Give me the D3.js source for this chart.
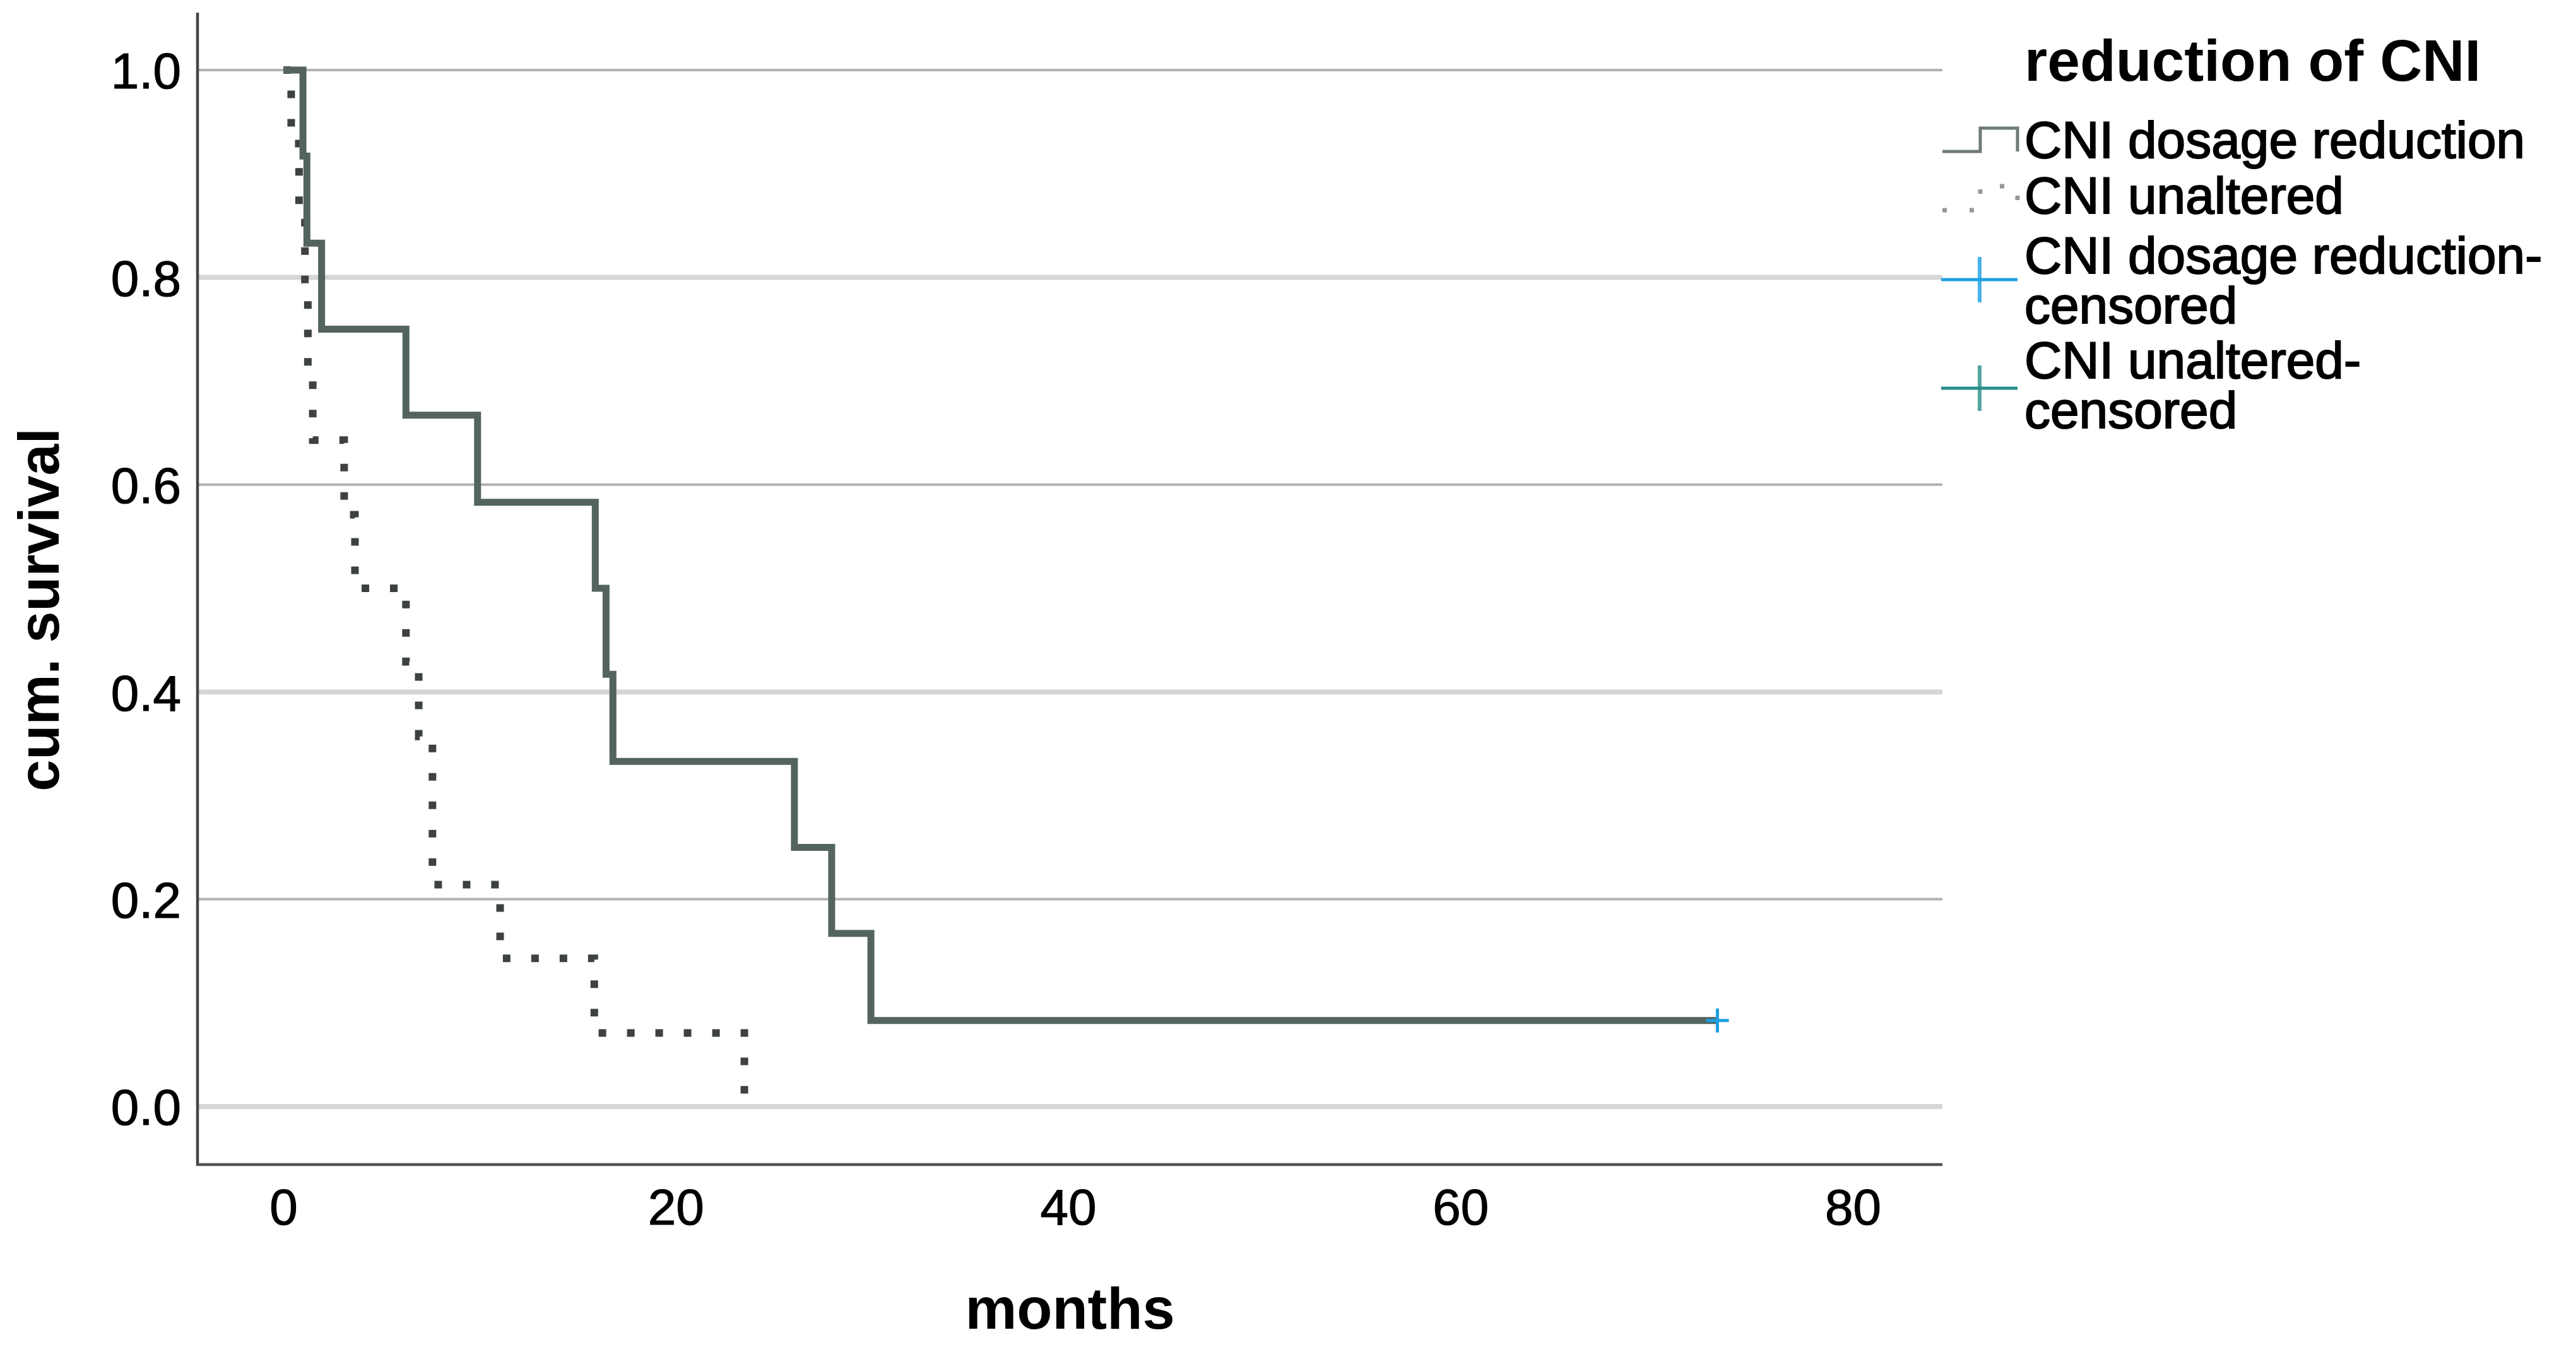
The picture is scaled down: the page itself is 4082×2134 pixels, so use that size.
<!DOCTYPE html>
<html>
<head>
<meta charset="utf-8">
<title>reduction of CNI - survival</title>
<script src="https://cdn.jsdelivr.net/npm/d3@7"></script>
<style>
  body { margin: 0; background: #ffffff; }
  text { font-family: "Liberation Sans", Arial, sans-serif; fill: #000; }
</style>
</head>
<body>
<div id="chartArea"></div>
<script>
// data (months, cum. survival)
var reducedTimes = [0, 1.0, 1.2, 1.95, 6.25, 9.9, 15.9, 16.45, 16.8, 26.05, 27.95, 29.95, 73.1];
var reducedSurv  = [1, 0.917, 0.833, 0.75, 0.667, 0.583, 0.5, 0.417, 0.333, 0.25, 0.167, 0.083, 0.083];

var unalteredTimes = [0, 0.4, 0.8, 1.1, 1.25, 1.5, 3.1, 3.65, 6.25, 6.9, 7.6, 11.05, 15.85, 23.5];
var unalteredSurv  = [1, 0.929, 0.857, 0.786, 0.714, 0.643, 0.571, 0.5, 0.429, 0.357, 0.214, 0.143, 0.071, 0];

var censorTimes = [73.1];
var censorSurv  = [0.083];

var xTicks = [0, 20, 40, 60, 80];
var yTicks = [0, 0.2, 0.4, 0.6, 0.8, 1.0];

var legendTitle = "reduction of CNI";
var legendLabels = [
  ["CNI dosage reduction"],
  ["CNI unaltered"],
  ["CNI dosage reduction-", "censored"],
  ["CNI unaltered-", "censored"]
];

var width = 4082,
    height = 2134,
    plotLeft = 313,
    plotRight = 3078,
    plotTop = 20,
    plotBottom = 1845;

var solidColor = "#53645e",
    dotColor = "#3d4141",
    censorColor = "#1c9fe4",
    censorColor2 = "#2a8f89";

var x = d3.scaleLinear().domain([0, 80]).range([449, 2936]);
var y = d3.scaleLinear().domain([0, 1]).range([1753, 111]);

var svg = d3.select("#chartArea").append("svg")
    .attr("width", width)
    .attr("height", height);

// gridlines - alternate light/dark like the original
svg.append("g").selectAll("line")
    .data(yTicks)
  .enter().append("line")
    .attr("x1", plotLeft)
    .attr("x2", plotRight)
    .attr("y1", function(d) { return y(d); })
    .attr("y2", function(d) { return y(d); })
    .style("stroke", function(d, i) { return i % 2 == 0 ? "#d6d6d6" : "#b2b2b2"; })
    .style("stroke-width", function(d, i) { return i % 2 == 0 ? 8 : 4; });

// axes (labels only, lines drawn separately)
var yAxis = svg.append("g")
    .attr("transform", "translate(" + plotLeft + ",0)")
    .call(d3.axisLeft(y).tickValues(yTicks).tickFormat(d3.format(".1f")).tickSize(0).tickPadding(26));
yAxis.select(".domain").remove();
yAxis.selectAll("text")
    .style("font-size", "80px")
    .style("font-family", "'Liberation Sans', Arial, sans-serif")
    .style("stroke", "#000").style("stroke-width", 1.2)
    .attr("dy", "0.36em")
    .attr("fill", "#000");

var xAxis = svg.append("g")
    .attr("transform", "translate(0," + plotBottom + ")")
    .call(d3.axisBottom(x).tickValues(xTicks).tickFormat(d3.format("d")).tickSize(0).tickPadding(38));
xAxis.select(".domain").remove();
xAxis.selectAll("text")
    .style("font-size", "80px")
    .style("font-family", "'Liberation Sans', Arial, sans-serif")
    .style("stroke", "#000").style("stroke-width", 1.2)
    .attr("dy", "0.71em")
    .attr("fill", "#000");

svg.append("line")
    .attr("x1", plotLeft).attr("x2", plotLeft)
    .attr("y1", plotTop).attr("y2", plotBottom + 2)
    .style("stroke", "#444").style("stroke-width", 4.5);
svg.append("line")
    .attr("x1", plotLeft - 2).attr("x2", plotRight)
    .attr("y1", plotBottom).attr("y2", plotBottom)
    .style("stroke", "#505050").style("stroke-width", 4.5);

// axis titles
svg.append("text")
    .attr("x", (plotLeft + plotRight) / 2)
    .attr("y", 2105)
    .attr("text-anchor", "middle")
    .style("font-size", "92px")
    .style("font-weight", "bold")
    .text("months");

svg.append("text")
    .attr("transform", "translate(93,966) rotate(-90)")
    .attr("text-anchor", "middle")
    .style("font-size", "90px")
    .style("font-weight", "bold")
    .text("cum. survival");

// survival curves
var stepLine = d3.line()
    .x(function(d) { return x(d[0]); })
    .y(function(d) { return y(d[1]); })
    .curve(d3.curveStepAfter);

var unalteredData = d3.zip(unalteredTimes, unalteredSurv);
var reducedData = d3.zip(reducedTimes, reducedSurv);

svg.append("path")
    .datum(unalteredData)
    .attr("d", stepLine)
    .style("fill", "none")
    .style("stroke", dotColor)
    .style("stroke-width", 12)
    .style("stroke-dasharray", "12 33");

svg.append("path")
    .datum(reducedData)
    .attr("d", stepLine)
    .style("fill", "none")
    .style("stroke", solidColor)
    .style("stroke-width", 11);

// censored marks
var censor = svg.append("g").selectAll("g")
    .data(d3.zip(censorTimes, censorSurv))
  .enter().append("g")
    .attr("transform", function(d) { return "translate(" + x(d[0]) + "," + y(d[1]) + ")"; });
censor.append("line")
    .attr("x1", -18).attr("x2", 18).attr("y1", 0).attr("y2", 0)
    .style("stroke", censorColor).style("stroke-width", 5);
censor.append("line")
    .attr("x1", 0).attr("x2", 0).attr("y1", -19).attr("y2", 19)
    .style("stroke", censorColor).style("stroke-width", 5);

/////////////////////////////
// legend
/////////////////////////////
var legend = svg.append("g");

legend.append("text")
    .attr("x", 3208)
    .attr("y", 128)
    .style("font-size", "93px")
    .style("font-weight", "bold")
    .text(legendTitle);

var legendBase = [250, 338, 433, 599];
legend.selectAll(".legend-label")
    .data(legendLabels)
  .enter().append("text")
    .attr("class", "legend-label")
    .attr("x", 3208)
    .attr("y", function(d, i) { return legendBase[i]; })
    .style("font-size", "82px")
    .style("stroke", "#000").style("stroke-width", 2)
    .each(function(d) {
      var t = d3.select(this);
      d.forEach(function(line, j) {
        t.append("tspan")
          .attr("x", 3208)
          .attr("dy", j == 0 ? 0 : 79)
          .text(line);
      });
    });

// legend symbols
var stepSym = function(yLow, yHigh) {
  return "M3078," + yLow + "H3138V" + yHigh + "H3197V" + yLow;
};
legend.append("path")
    .attr("d", stepSym(240, 203))
    .style("fill", "none")
    .style("stroke", "#6f7b76")
    .style("stroke-width", 5);
legend.append("path")
    .attr("d", stepSym(333, 295))
    .style("fill", "none")
    .style("stroke", "#979797")
    .style("stroke-width", 7)
    .style("stroke-dasharray", "7 36");

var crossSym = [[443, censorColor], [615, censorColor2]];
crossSym.forEach(function(c) {
  legend.append("line")
    .attr("x1", 3076).attr("x2", 3197).attr("y1", c[0]).attr("y2", c[0])
    .style("stroke", c[1]).style("stroke-width", 5);
  legend.append("line")
    .attr("x1", 3137).attr("x2", 3137).attr("y1", c[0] - 36).attr("y2", c[0] + 36)
    .style("stroke", c[1]).style("stroke-width", 6)
    .style("opacity", 0.8);
});
</script>
</body>
</html>
